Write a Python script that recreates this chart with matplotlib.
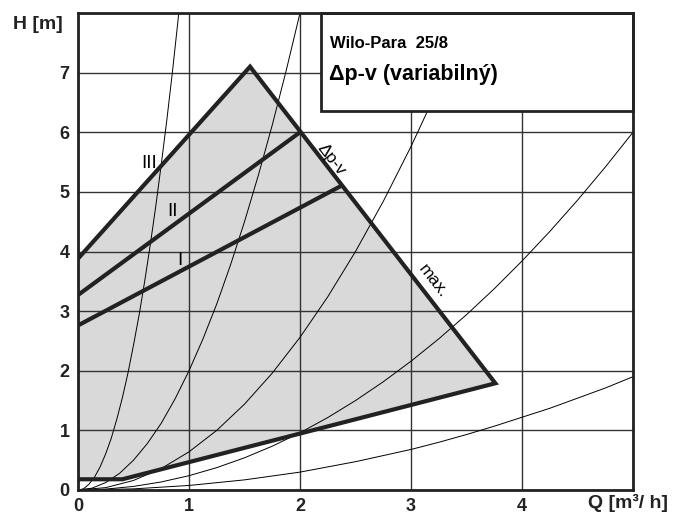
import matplotlib.pyplot as plt
from matplotlib.patches import Rectangle, Polygon

plt.rcParams['font.family'] = ['Liberation Sans', 'DejaVu Sans']

# operating field (grey area) outline
field_q = [0.0, 0.40, 3.76, 1.55, 0.0]
field_h = [0.18, 0.18, 1.79, 7.10, 3.88]

# speed stages I / II (III is the upper edge of the field)
stage1_q = [0.0, 2.35]
stage1_h = [2.76, 5.08]
stage2_q = [0.0, 2.0]
stage2_h = [3.27, 6.0]

# system curves (thin lines)
curve_a_q = [0, 0.05, 0.1, 0.15, 0.2, 0.25, 0.3, 0.35, 0.4, 0.45, 0.5, 0.55, 0.6,
             0.65, 0.7, 0.75, 0.8, 0.85, 0.9, 0.93]
curve_a_h = [0, 0.02, 0.1, 0.22, 0.39, 0.61, 0.87, 1.19, 1.55, 1.96, 2.43, 2.93,
             3.49, 4.1, 4.75, 5.46, 6.2, 7.0, 7.86, 8.4]
curve_b_q = [0, 0.125, 0.25, 0.375, 0.5, 0.625, 0.75, 0.875, 1.0, 1.125, 1.25,
             1.375, 1.5, 1.625, 1.75, 1.875, 2.0, 2.05]
curve_b_h = [0, 0.03, 0.125, 0.28, 0.5, 0.78, 1.12, 1.53, 2.0, 2.53, 3.12, 3.78,
             4.5, 5.28, 6.12, 7.03, 8.0, 8.4]
curve_c_q = [0, 0.25, 0.5, 0.75, 1.0, 1.25, 1.5, 1.75, 2.0, 2.25, 2.5, 2.75, 3.0,
             3.25, 3.5]
curve_c_h = [0, 0.04, 0.16, 0.36, 0.64, 1.0, 1.44, 1.96, 2.56, 3.24, 4.0, 4.84,
             5.76, 6.76, 7.84]
curve_d_q = [0, 0.25, 0.5, 0.75, 1.0, 1.25, 1.5, 1.75, 2.0, 2.25, 2.5, 2.75, 3.0,
             3.25, 3.5, 3.75, 4.0, 4.25, 4.5, 4.75, 5.0]
curve_d_h = [0, 0.015, 0.06, 0.135, 0.24, 0.375, 0.54, 0.735, 0.96, 1.215, 1.5,
             1.815, 2.16, 2.535, 2.94, 3.375, 3.84, 4.335, 4.86, 5.415, 6.0]
curve_e_q = [0, 0.5, 1.0, 1.5, 2.0, 2.5, 3.0, 3.25, 3.5, 3.75, 4.0, 4.25, 4.5,
             4.75, 5.0]
curve_e_h = [0, 0.019, 0.076, 0.17, 0.30, 0.475, 0.68, 0.80, 0.93, 1.07, 1.22,
             1.37, 1.54, 1.71, 1.9]

x_ticks = [0, 1, 2, 3, 4]
y_ticks = [0, 1, 2, 3, 4, 5, 6, 7]

dark = '#222222'

fig = plt.figure(figsize=(6.8, 5.16), dpi=100)
ax = fig.add_axes([78 / 680, 1 - 490 / 516, 555 / 680, 477 / 516])
ax.set_xlim(0, 5)
ax.set_ylim(0, 8)

ax.add_patch(Polygon(list(zip(field_q, field_h)), closed=True,
                     facecolor='#d9d9d9', edgecolor='none', zorder=1))

ax.set_xticks([0, 1, 2, 3, 4, 5])
ax.set_yticks(list(range(9)))
ax.grid(True, color='#333333', lw=1.0, zorder=2)
ax.set_axisbelow(False)
for gl in ax.get_xgridlines() + ax.get_ygridlines():
    gl.set_zorder(2)

for q, h in [(curve_a_q, curve_a_h), (curve_b_q, curve_b_h), (curve_c_q, curve_c_h),
             (curve_d_q, curve_d_h), (curve_e_q, curve_e_h)]:
    ax.plot(q, h, color='black', lw=0.7, zorder=3)

# thick outline of field
ax.plot(field_q, field_h, color=dark, lw=3.0, zorder=4, solid_joinstyle='miter')
ax.plot(stage1_q, stage1_h, color=dark, lw=3.0, zorder=4)
ax.plot(stage2_q, stage2_h, color=dark, lw=3.0, zorder=4)

ax.text(0.64, 5.47, 'III', fontsize=13.5, ha='center', va='center', zorder=5)
ax.text(0.85, 4.67, 'II', fontsize=13.5, ha='center', va='center', zorder=5)
ax.text(0.915, 3.85, 'I', fontsize=13.5, ha='center', va='center', zorder=5)
ax.text(2.28, 5.55, 'Δp-v', fontsize=12.5, rotation=-52, ha='center', va='center',
        rotation_mode='anchor', zorder=5)
ax.text(3.2, 3.5, 'max.', fontsize=12.5, rotation=-52, ha='center', va='center',
        rotation_mode='anchor', zorder=5)

# title box
ax.add_patch(Rectangle((2.19, 6.35), 2.81, 1.65, facecolor='white', edgecolor=dark,
                       lw=2.0, zorder=6, clip_on=False))
fig.text(330 / 680, 1 - 48 / 516, 'Wilo-Para  25/8', fontsize=12, fontweight='bold',
         va='baseline', ha='left', zorder=7)
fig.text(329 / 680, 1 - 80 / 516, 'Δp-v (variabilný)', fontsize=15.5, fontweight='bold',
         va='baseline', ha='left', zorder=7)

ax.set_xticklabels(['0', '1', '2', '3', '4', ''], fontsize=13, fontweight='bold')
ax.set_yticklabels(['0', '1', '2', '3', '4', '5', '6', '7', ''], fontsize=13,
                   fontweight='bold')
ax.tick_params(length=0, pad=6, colors=dark)
for s in ax.spines.values():
    s.set_linewidth(2.0)
    s.set_color(dark)
    s.set_zorder(8)

fig.text(13 / 680, 1 - 29 / 516, 'H [m]', fontsize=14, fontweight='bold',
         va='baseline', ha='left', color=dark)
fig.text(588 / 680, 1 - 508 / 516, 'Q [m³/ h]', fontsize=14, fontweight='bold',
         va='baseline', ha='left', color=dark)

fig.savefig('out.png', dpi=100)
